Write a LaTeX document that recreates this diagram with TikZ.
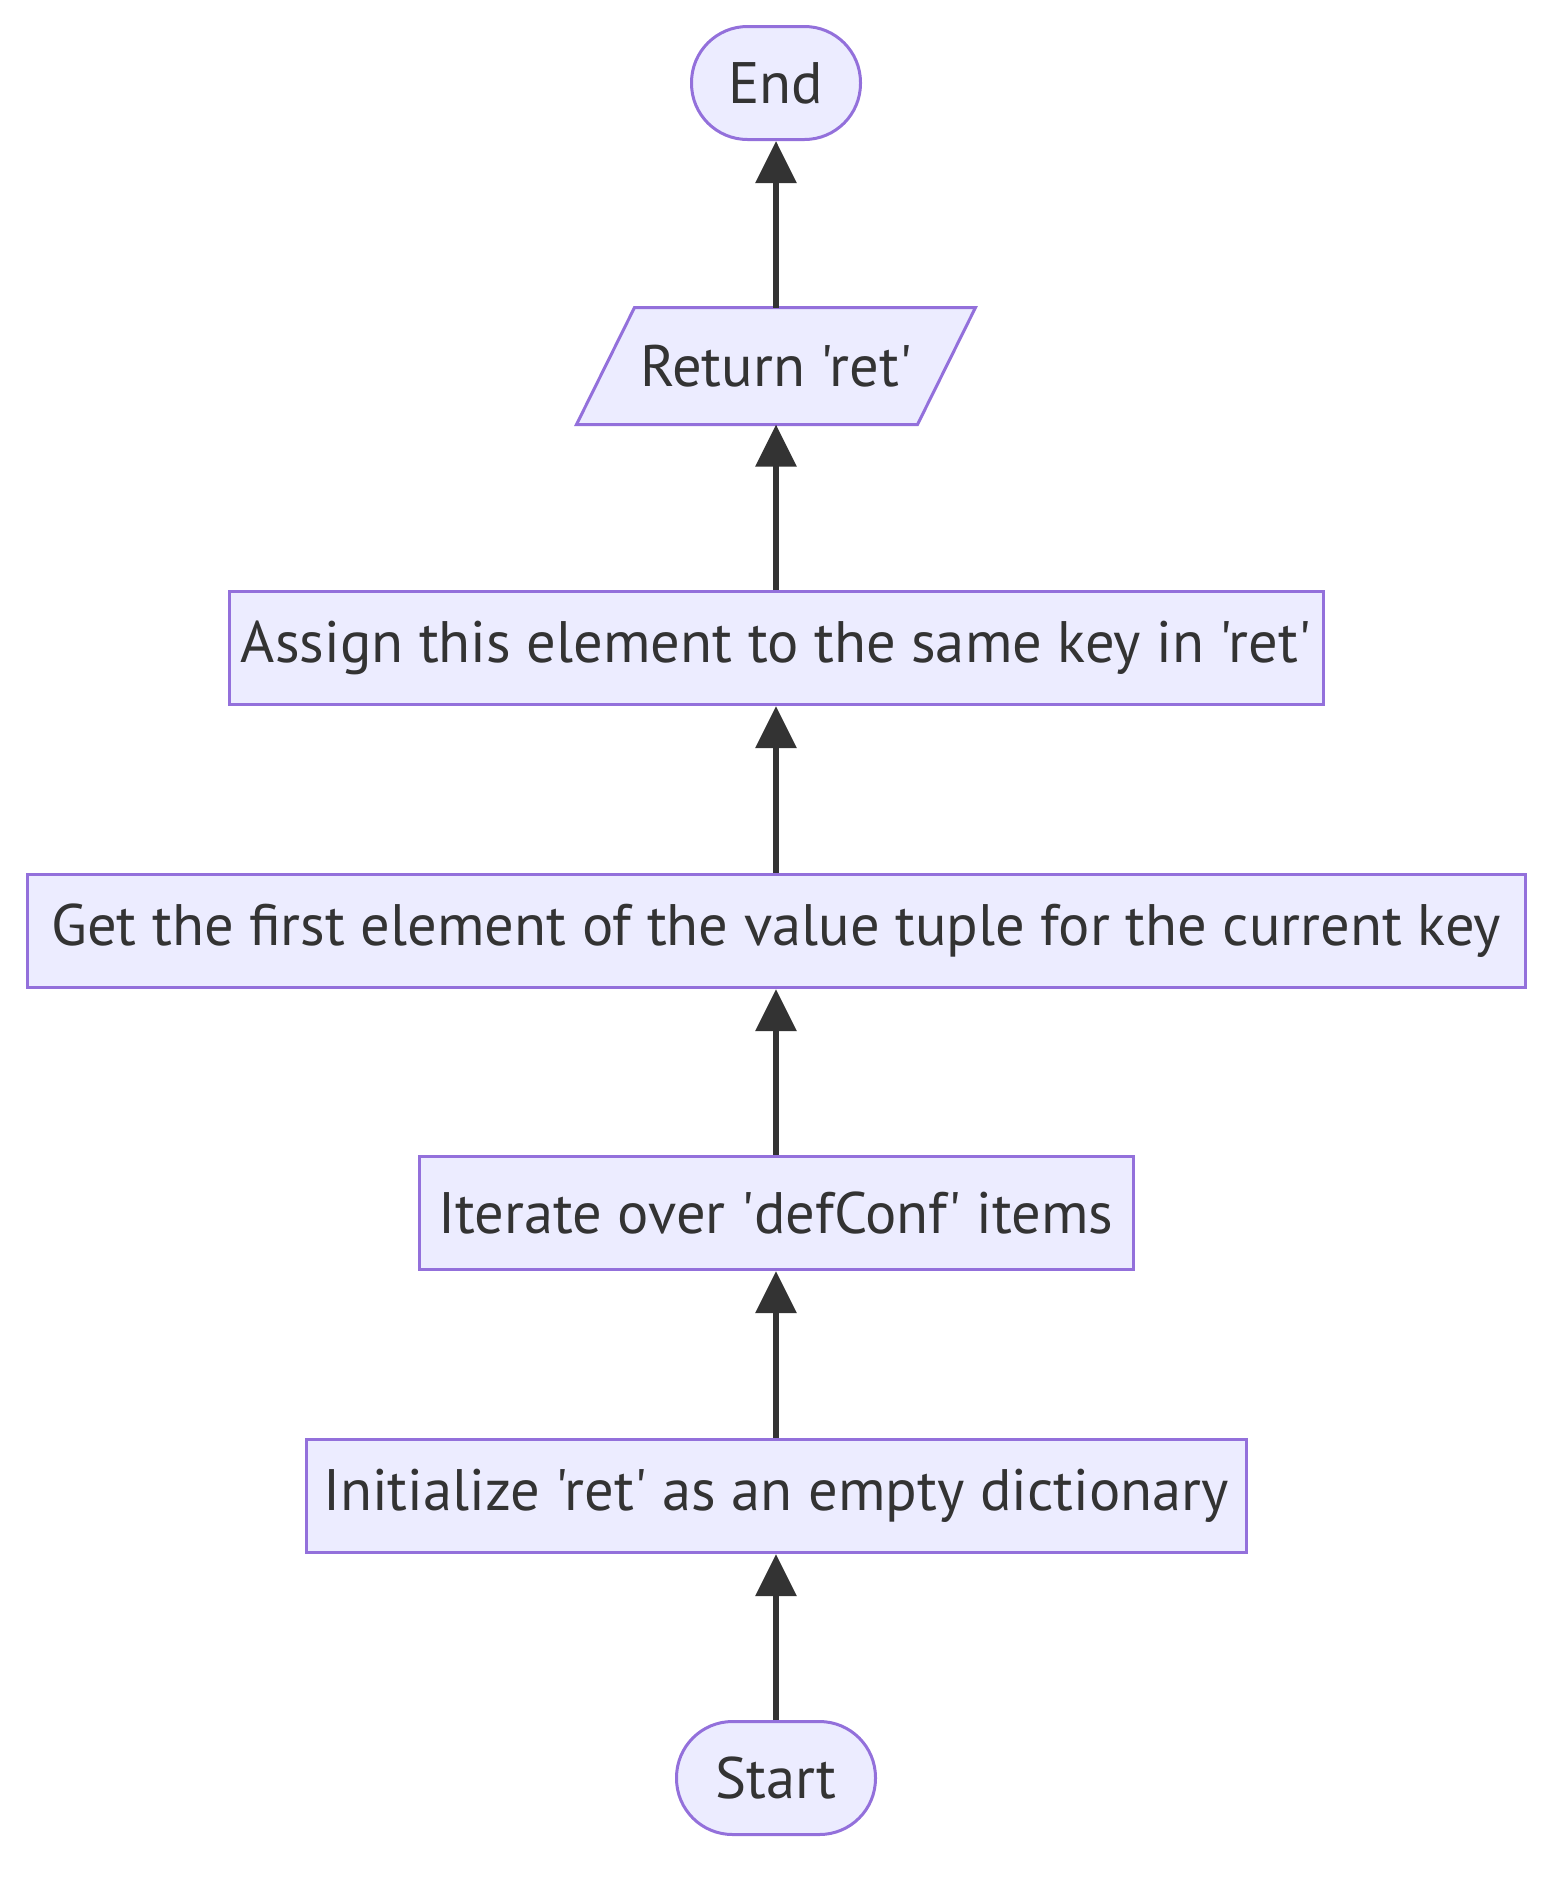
\documentclass[tikz,border=0pt]{standalone}
\usepackage{fontspec}
\setmainfont{PT Sans}[Ligatures=TeXOff]
\usetikzlibrary{arrows.meta,backgrounds}
\definecolor{nodefill}{HTML}{ECECFF}
\definecolor{nodeline}{HTML}{9370DB}
\definecolor{ink}{HTML}{333333}
\begin{document}
\begin{tikzpicture}[x=1pt,y=-1pt,
  box/.style={draw=nodeline,fill=nodefill,line width=3pt,inner sep=0pt,
    minimum height=113pt,text=ink,font=\fontsize{58.5}{64}\selectfont},
  stadium/.style={box,rounded corners=56pt},
  flow/.style={draw=ink,line width=6pt,-{Triangle[width=40pt,length=42pt]}}]
\useasboundingbox (0,0) rectangle (1568,1882);
\node[stadium,minimum width=169pt] (end) at (776,83) {End};
\node[box,draw=none,fill=none,minimum width=338pt,minimum height=114pt] (ret) at (776,366) {Return 'ret'};
\begin{scope}[on background layer]
\draw[draw=nodeline,fill=nodefill,line width=3pt]
  ([xshift=29pt]ret.north west) -- ([xshift=29pt]ret.north east)
  -- ([xshift=-29pt]ret.south east) -- ([xshift=-29pt]ret.south west) -- cycle;
\end{scope}
\node[box,minimum width=1094pt] (assign) at (776,648) {Assign this element to the same key in 'ret'};
\node[box,minimum width=1498pt] (get) at (776,931) {Get the first element of the value tuple for the current key};
\node[box,minimum width=714pt] (iter) at (776,1213) {Iterate over 'defConf' items};
\node[box,minimum width=940pt] (init) at (776,1496) {Initialize 'ret' as an empty dictionary};
\node[stadium,minimum width=199pt] (start) at (776,1778) {Start};
\draw[flow] (start) -- (init);
\draw[flow] (init) -- (iter);
\draw[flow] (iter) -- (get);
\draw[flow] (get) -- (assign);
\draw[flow] (assign) -- (ret.south);
\draw[flow] (ret.north) -- (end);
\end{tikzpicture}
\end{document}
